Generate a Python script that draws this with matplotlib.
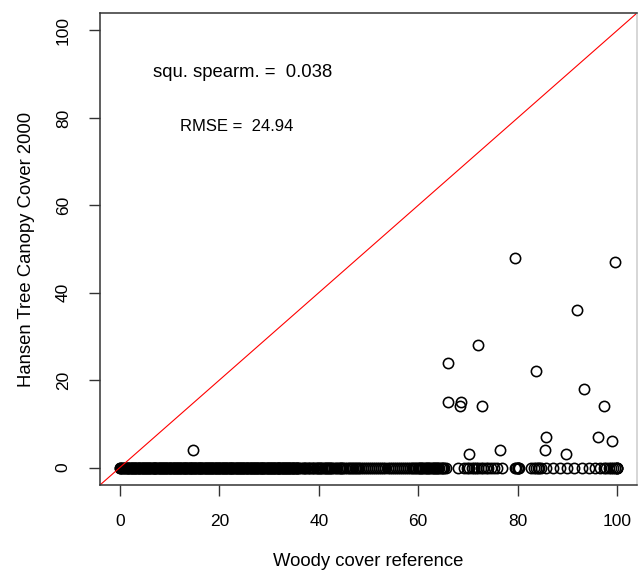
import matplotlib
matplotlib.use("Agg")
import matplotlib.pyplot as plt

plt.rcParams["font.family"] = ["Liberation Sans", "DejaVu Sans"]

# points sitting on y = 0 (Hansen cover 0) -- x = woody cover reference
zero_x = [
    0.0, 0.3, 0.7, 1.0, 1.2, 1.6, 1.9, 2.2, 2.5, 2.8, 3.1, 3.5, 3.8, 4.0, 4.4,
    4.7, 5.0, 5.3, 5.6, 5.9, 6.2, 6.6, 6.9, 7.1, 7.5, 7.8, 8.1, 8.4, 8.7, 9.0,
    9.3, 9.7, 10.0, 10.2, 10.6, 10.9, 11.2, 11.5, 11.8, 12.1, 12.4, 12.8, 13.1,
    13.3, 13.7, 14.0, 14.3, 14.6, 14.9, 15.2, 15.5, 15.9, 16.2, 16.4, 16.8,
    17.1, 17.4, 17.7, 18.0, 18.3, 18.6, 19.0, 19.3, 19.5, 19.9, 20.2, 20.5,
    20.8, 21.1, 21.4, 21.7, 22.1, 22.4, 22.6, 23.0, 23.3, 23.6, 23.9, 24.2,
    24.5, 24.8, 25.2, 25.5, 25.7, 26.1, 26.4, 26.7, 27.0, 27.3, 27.6, 27.9,
    28.3, 28.6, 28.8, 29.2, 29.5, 29.8, 30.1, 30.4, 30.7, 31.0, 31.4, 31.7,
    31.9, 32.3, 32.6, 32.9, 33.2, 33.5, 33.8, 34.1, 34.5, 34.8, 35.0, 35.4,
    35.7, 36.0,
    36.5, 37.0, 37.5, 37.8, 38.3, 38.8, 39.1, 39.6, 40.0, 40.4, 41.0, 41.5,
    41.9, 42.3, 42.7, 43.4, 44.0, 44.5, 44.9, 45.6, 46.3, 46.9, 47.5, 48.1,
    48.8, 49.6, 50.5, 51.3, 52.2, 53.0, 53.9, 54.7, 55.6, 56.4, 57.1, 57.5,
    58.3, 59.0, 59.6,
    60.2, 60.6, 61.0, 61.5, 62.0, 62.4, 62.9, 63.3, 63.8, 64.2, 64.7, 65.1,
    65.5, 67.9,
    69.3, 69.8, 70.3, 70.8, 71.2, 71.7, 72.1, 72.6, 73.1, 73.6, 74.0, 74.6,
    75.2, 75.9, 76.8,
    79.4, 79.7, 80.0, 80.0, 80.0, 80.2,
    82.7, 83.2, 83.6, 84.0, 84.3, 84.7,
    85.7, 87.2, 88.6, 90.0, 91.4, 93.0, 94.4, 95.6,
    96.6, 97.3, 97.8, 98.3, 98.8, 99.2, 99.6, 100.0, 100.0, 100.0,
]

# more zero-cover plots in the crowded low range (0-36)
zero_x_low = [
    0.1, 0.5, 0.9, 1.4, 1.7, 2.1, 2.4, 2.6, 3.0, 3.3, 3.6, 3.9, 4.2, 4.6, 4.9,
    5.2, 5.5, 5.8, 6.1, 6.4, 6.8, 7.0, 7.3, 7.7, 8.0, 8.3, 8.6, 8.9, 9.2, 9.5,
    9.8, 10.1, 10.4, 10.8, 11.0, 11.4, 11.7, 12.0, 12.3, 12.6, 12.9, 13.2, 13.5,
    13.9, 14.2, 14.5, 14.8, 15.1, 15.4, 15.7, 16.0, 16.3, 16.6, 17.0, 17.3,
    17.6, 17.9, 18.2, 18.5, 18.8, 19.1, 19.4, 19.7, 20.0, 20.4, 20.7, 21.0,
    21.3, 21.6, 21.9, 22.2, 22.5, 22.8, 23.2, 23.5, 23.8, 24.1, 24.4, 24.7,
    25.0, 25.3, 25.6, 25.9, 26.3, 26.6, 26.9, 27.2, 27.5, 27.8, 28.1, 28.4,
    28.7, 29.0, 29.4, 29.7, 30.0, 30.3, 30.6, 30.9, 31.2, 31.5, 31.8, 32.1,
    32.5, 32.8, 33.1, 33.4, 33.7, 34.0, 34.3, 34.6, 34.9, 35.2, 35.6, 35.9,
]

# zero-cover plots in the middle range (36-66)
zero_x_mid = [
    36.8, 37.3, 38.1, 38.6, 39.4, 39.8, 40.2, 40.7, 41.2, 41.7, 42.1, 42.5,
    43.0, 43.7, 44.2, 44.7, 45.3, 46.0, 46.6, 47.2, 47.8, 48.5, 49.2, 50.0,
    50.9, 51.8, 52.6, 53.4, 54.3, 55.1, 56.0, 56.8, 57.9, 58.7, 59.3, 59.9,
    60.4, 60.8, 61.3, 61.8, 62.2, 62.7, 63.1, 63.6, 64.0, 64.5, 64.9,
]

# points with non-zero Hansen cover
nz_x = [14.8, 66.0, 65.9, 68.7, 68.5, 72.0, 72.8, 97.4, 79.5, 99.6, 92.0,
        83.6, 93.4, 85.6, 96.2, 99.0, 70.3, 76.4, 85.4, 89.8]
nz_y = [4, 24, 15, 15, 14, 28, 14, 14, 48, 47, 36,
        22, 18, 7, 7, 6, 3, 4, 4, 3]

ticks = [0, 20, 40, 60, 80, 100]
stats_text = ["squ. spearm. =  0.038", "RMSE =  24.94"]

zeros = zero_x + zero_x_low + zero_x_mid
x = zeros + nz_x
y = [0] * len(zeros) + nz_y

fig = plt.figure(figsize=(6.38, 5.72), dpi=100)
ax = fig.add_axes([100 / 638, 1 - 485 / 572, 537 / 638, 472 / 572])

ax.plot(x, y, "o", markersize=7.4, markerfacecolor="none",
        markeredgecolor="black", markeredgewidth=1.15, linestyle="none")
ax.axline((0, 0), slope=1, color="red", lw=0.8)

ax.text(24.7, 90.3, stats_text[0], ha="center", va="center", fontsize=13.3)
ax.text(23.4, 78.0, stats_text[1], ha="center", va="center", fontsize=12)

ax.set_xlim(-4, 104)
ax.set_ylim(-4, 104)
ax.set_xticks(ticks)
ax.set_yticks(ticks)
ax.set_yticklabels([str(t) for t in ticks], rotation=90, va="center")
ax.tick_params(axis="both", length=8, width=1, labelsize=12.5, pad=13,
               color="#333333")
for s in ax.spines.values():
    s.set_linewidth(1.1)
    s.set_color("#333333")
ax.spines["right"].set_color("#cccccc")

ax.set_xlabel("Woody cover reference", fontsize=13.3, labelpad=17)
ax.set_ylabel("Hansen Tree Canopy Cover 2000", fontsize=13.3, labelpad=15)

fig.savefig("out.png", dpi=100)
